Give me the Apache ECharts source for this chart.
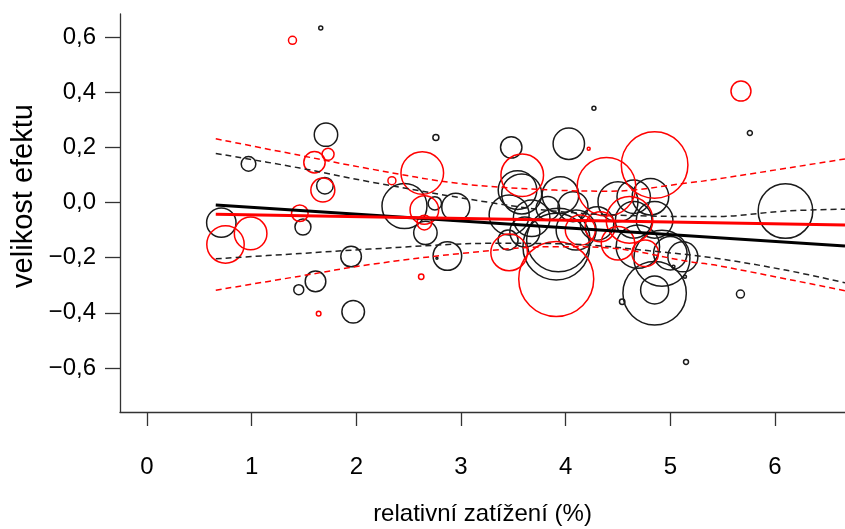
<!DOCTYPE html>
<html>
<head>
<meta charset="utf-8">
<script src="https://cdn.jsdelivr.net/npm/echarts@6/dist/echarts.min.js"></script>
<style>
  html, body { margin: 0; padding: 0; background: #fff; }
  #chart { width: 845px; height: 529px; }
</style>
</head>
<body>
<div id="chart"></div>
<script>
// Studies: [relativní zatížení (%), velikost efektu, váha]
const studiesBlack = [
  [1.66, 0.633, 0.2], [1.71, 0.246, 1.17], [0.97, 0.140, 0.73], [1.70, 0.061, 0.83],
  [1.49, -0.089, 0.8], [0.71, -0.073, 1.47], [1.95, -0.196, 1.03], [1.61, -0.286, 1.03],
  [1.45, -0.316, 0.5], [1.97, -0.396, 1.13], [2.76, 0.236, 0.3], [4.27, 0.342, 0.2],
  [3.48, 0.200, 1.07], [4.03, 0.213, 1.57], [2.46, -0.013, 2.25], [2.75, -0.003, 0.67],
  [2.95, -0.017, 1.4], [2.66, -0.110, 1.17], [2.87, -0.194, 1.43], [2.77, -0.202, 0.1],
  [3.54, 0.045, 1.93], [3.58, 0.031, 2.0], [3.46, -0.045, 2.0], [3.675, -0.057, 1.83],
  [3.83, -0.021, 1.17], [3.95, 0.027, 1.83], [3.45, -0.136, 1.0], [3.91, -0.160, 3.33],
  [3.93, -0.136, 3.17], [4.07, -0.015, 1.5], [4.10, -0.100, 2.0], [4.50, 0.003, 2.0],
  [4.65, 0.021, 1.67], [4.81, 0.021, 1.83], [4.65, -0.063, 1.83], [4.85, -0.063, 1.83],
  [4.69, -0.160, 2.17], [5.00, -0.184, 1.67], [5.12, -0.197, 1.5], [4.92, -0.202, 2.8],
  [4.85, -0.317, 1.4], [4.85, -0.329, 3.17], [4.54, -0.360, 0.27], [6.10, -0.031, 2.73],
  [5.67, -0.332, 0.4], [5.15, -0.578, 0.25], [5.76, 0.252, 0.25], [4.30, -0.076, 1.67],
  [5.03, -0.233, 0.15], [5.14, -0.269, 0.15], [3.61, -0.107, 1.5]
];
const studiesRed = [
  [1.39, 0.588, 0.4], [1.60, 0.146, 1.07], [1.73, 0.175, 0.6], [1.68, 0.045, 1.2],
  [1.46, -0.039, 0.83], [0.75, -0.152, 1.87], [0.99, -0.112, 1.63], [1.64, -0.403, 0.23],
  [2.63, 0.107, 2.13], [2.34, 0.079, 0.4], [3.585, 0.099, 2.13], [4.22, 0.195, 0.15],
  [4.85, 0.136, 3.33], [4.39, 0.057, 2.93], [2.65, -0.027, 1.43], [2.65, -0.073, 0.73],
  [2.62, -0.269, 0.27], [3.46, -0.181, 1.83], [3.91, -0.277, 3.75], [4.61, -0.063, 2.33],
  [4.33, -0.088, 1.5], [4.50, -0.148, 1.67], [4.76, -0.184, 1.33], [5.675, 0.404, 1.0],
  [4.14, -0.100, 1.5]
];

// Meta-regression lines and their confidence bands: [x, y]
const fitBlack = [[0.657, -0.009], [6.669, -0.158]];
const fitRed = [[0.657, -0.043], [6.669, -0.082]];
const bandBlackUpper = [[0.657, 0.178], [1.46, 0.125], [2.13, 0.075], [3.31, -0.002], [4.0, -0.035],
  [4.8, -0.049], [5.43, -0.051], [6.10, -0.031], [6.669, -0.024]];
const bandBlackLower = [[0.657, -0.204], [1.46, -0.185], [2.13, -0.169], [3.31, -0.148], [4.0, -0.150],
  [4.8, -0.175], [5.43, -0.202], [6.10, -0.245], [6.669, -0.291]];
const bandRedUpper = [[0.657, 0.231], [1.46, 0.171], [2.13, 0.122], [3.0, 0.068], [3.9, 0.045],
  [4.42, 0.041], [5.19, 0.072], [5.43, 0.084], [6.669, 0.158]];
const bandRedLower = [[0.657, -0.318], [1.46, -0.267], [2.13, -0.225], [3.0, -0.185], [3.9, -0.160],
  [4.42, -0.165], [5.19, -0.215], [5.43, -0.227], [6.669, -0.320]];

const xTicks = [0, 1, 2, 3, 4, 5, 6];
const yTicks = [-0.6, -0.4, -0.2, 0.0, 0.2, 0.4, 0.6];

const FONT = 'Liberation Sans, Arial, sans-serif';
const INK = '#1a1a1a';
const RED = '#ff0000';

function bubbles(data, color) {
  return {
    type: 'scatter',
    data: data,
    symbol: 'circle',
    symbolSize: d => Math.max(2, d[2] * 20),
    itemStyle: { color: 'rgba(0,0,0,0)', borderColor: color, borderWidth: 1.5, opacity: 1 },
    emphasis: { disabled: true },
    silent: true,
    z: 2
  };
}
function line(data, color, width, dashed) {
  return {
    type: 'line',
    data: data,
    showSymbol: false,
    smooth: dashed ? 0.35 : false,
    lineStyle: { color: color, width: width, type: dashed ? [6, 4] : 'solid' },
    emphasis: { disabled: true },
    silent: true,
    z: dashed ? 3 : 4
  };
}

const chart = echarts.init(document.getElementById('chart'), null, { renderer: 'canvas' });
chart.setOption({
  animation: false,
  backgroundColor: '#fff',
  grid: { left: 120, top: 14, right: 0, bottom: 117, containLabel: false, outerBoundsMode: 'none' },
  // y-axis title, set slightly above the plot's vertical centre
  graphic: [{
    type: 'text',
    x: 24, y: 196,
    rotation: Math.PI / 2,
    style: {
      text: 'velikost efektu',
      fontFamily: FONT, fontSize: 29, fill: '#000',
      align: 'center', verticalAlign: 'middle'
    },
    silent: true
  }],
  xAxis: {
    type: 'value',
    min: -0.258, max: 6.669,
    name: 'relativní zatížení (%)',
    nameLocation: 'middle',
    nameGap: 90,
    nameTextStyle: { fontFamily: FONT, fontSize: 24, color: '#000' },
    axisLine: { show: true, onZero: false, lineStyle: { color: '#333', width: 1.3 } },
    axisTick: { show: true, inside: false, length: 14, customValues: xTicks, lineStyle: { color: '#333', width: 1.3 } },
    axisLabel: { customValues: xTicks, margin: 43, fontFamily: FONT, fontSize: 24, color: '#000', formatter: v => String(v) },
    splitLine: { show: false }
  },
  yAxis: {
    type: 'value',
    min: -0.7596, max: 0.6835,
    axisLine: { show: true, onZero: false, lineStyle: { color: '#333', width: 1.3 } },
    axisTick: { show: true, inside: false, length: 15, customValues: yTicks, lineStyle: { color: '#333', width: 1.3 } },
    axisLabel: {
      customValues: yTicks, margin: 24, fontFamily: FONT, fontSize: 24, color: '#000',
      formatter: v => (v < -1e-9 ? '\u2212' : '') + Math.abs(v).toFixed(1).replace('.', ',')
    },
    splitLine: { show: false }
  },
  series: [
    bubbles(studiesBlack, INK),
    bubbles(studiesRed, RED),
    line(bandBlackUpper, '#222', 1.5, true),
    line(bandBlackLower, '#222', 1.5, true),
    line(bandRedUpper, RED, 1.5, true),
    line(bandRedLower, RED, 1.5, true),
    line(fitBlack, '#000', 3, false),
    line(fitRed, RED, 3, false)
  ]
});
</script>
</body>
</html>
